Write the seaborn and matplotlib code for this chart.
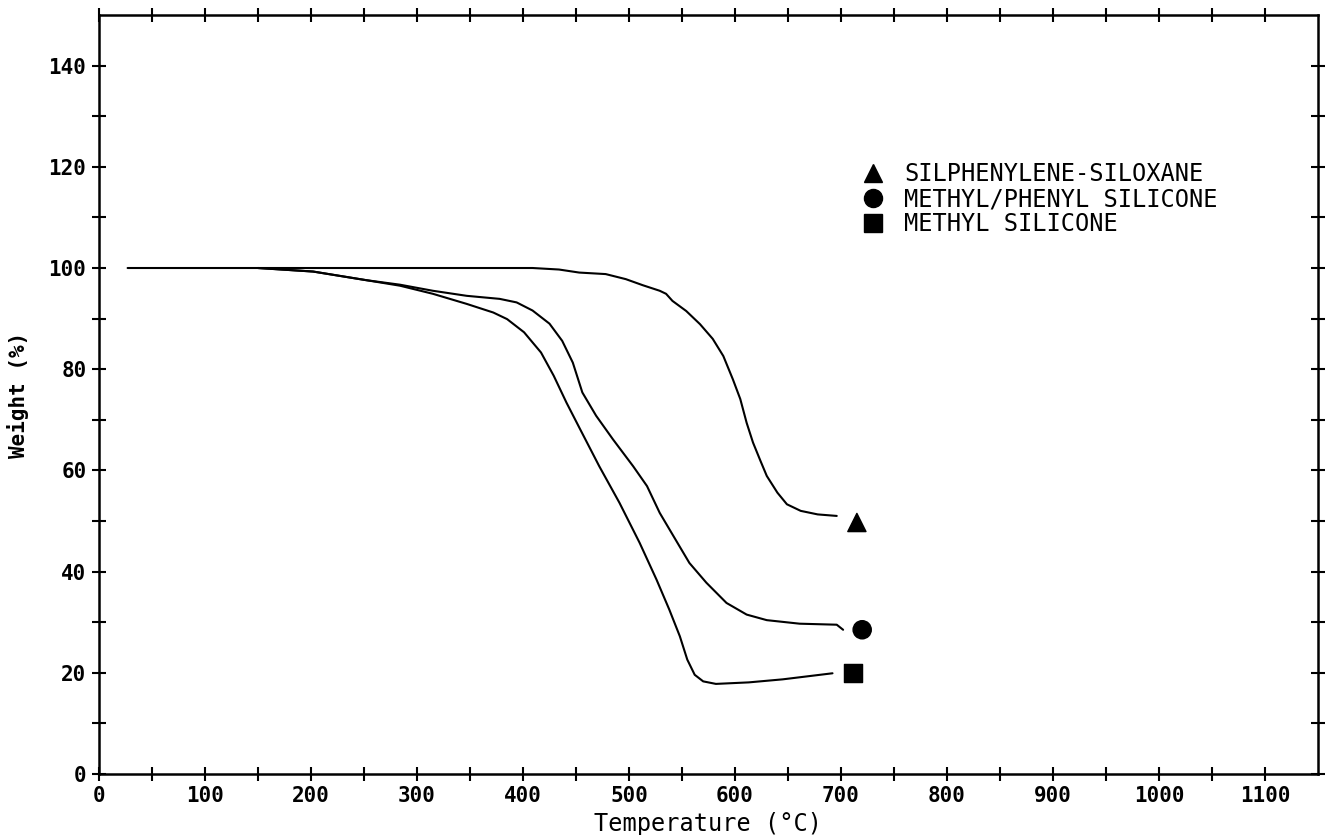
import matplotlib
matplotlib.use('Agg')
import matplotlib.pyplot as plt
from matplotlib.lines import Line2D
import seaborn as sns
import numpy as np
import pandas as pd

# TGA curves (temperature in C, weight in %)
sil_temp = [27, 150, 284, 409, 434, 453, 478, 497, 513, 529, 535, 541, 554, 567, 579, 589, 598,
            605, 611, 617, 624, 630, 640, 649, 662, 678, 696]
sil_weight = [100, 100, 100, 100, 99.7, 99.1, 98.8, 97.8, 96.6, 95.5, 94.9, 93.5, 91.5, 88.9, 86.0,
              82.6, 78.0, 74.1, 69.4, 65.5, 61.9, 58.9, 55.6, 53.3, 52.0, 51.3, 51.0]

mp_temp = [150, 202, 252, 284, 315, 347, 378, 394, 409, 425, 437, 447, 456, 469, 485, 504, 517,
           529, 542, 557, 573, 592, 611, 630, 661, 696, 702]
mp_weight = [100, 99.3, 97.6, 96.7, 95.5, 94.5, 93.9, 93.2, 91.6, 89.0, 85.6, 81.3, 75.4, 70.8,
             66.1, 60.8, 56.9, 51.6, 47.0, 41.7, 37.8, 33.8, 31.5, 30.4, 29.7, 29.5, 28.5]

me_temp = [150, 202, 252, 284, 315, 347, 372, 385, 401, 417, 429, 441, 454, 472, 491, 510, 526,
           538, 548, 555, 562, 570, 582, 613, 645, 692]
me_weight = [100, 99.3, 97.6, 96.5, 94.9, 92.9, 91.2, 89.9, 87.3, 83.3, 78.7, 73.4, 68.1, 60.8,
             53.6, 45.7, 38.4, 32.5, 27.2, 22.6, 19.6, 18.3, 17.8, 18.1, 18.7, 19.9]

# end-of-curve symbols
names = ["SILPHENYLENE-SILOXANE", "METHYL/PHENYL SILICONE", "METHYL SILICONE"]
symbols = ["^", "o", "s"]
end_temp = [715, 720, 711]
end_weight = [49.7, 28.5, 20.0]

x_ticks = np.arange(0, 1101, 100)
y_ticks = np.arange(0, 141, 20)

sns.set_style("ticks")
plt.rcParams['font.family'] = ['DejaVu Sans Mono', 'DejaVu Sans']
plt.rcParams['text.color'] = 'black'
plt.rcParams['axes.labelcolor'] = 'black'
plt.rcParams['xtick.color'] = 'black'
plt.rcParams['ytick.color'] = 'black'

fig = plt.figure(figsize=(13.27, 8.35), dpi=100)
ax = fig.add_axes([0.0746, 0.0731, 0.9186, 0.9089])

curves = [(sil_temp, sil_weight), (mp_temp, mp_weight), (me_temp, me_weight)]
for t, w in curves:
    df = pd.DataFrame({"Temperature": t, "Weight": w})
    sns.lineplot(data=df, x="Temperature", y="Weight", ax=ax, color="black",
                 linewidth=1.5, sort=False, estimator=None)

ends = pd.DataFrame({"t": end_temp, "w": end_weight, "name": names})
sns.scatterplot(data=ends, x="t", y="w", style="name", markers=dict(zip(names, symbols)),
                color="black", s=170, edgecolor="black", ax=ax, legend=False)

ax.set_xlim(0, 1150)
ax.set_ylim(0, 150)
ax.set_xticks(x_ticks)
ax.set_xticklabels([str(v) for v in x_ticks])
ax.set_xticks(np.arange(50, 1150, 100), minor=True)
ax.set_yticks(y_ticks)
ax.set_yticklabels([str(v) for v in y_ticks])
ax.set_yticks(np.arange(10, 150, 20), minor=True)

for which in ("major", "minor"):
    ax.tick_params(axis="both", which=which, direction="inout", length=10, width=1.5,
                   top=True, right=True, color="black")
ax.tick_params(axis="both", which="major", labelsize=15, pad=4, labelcolor="black")
for lab in ax.get_xticklabels() + ax.get_yticklabels():
    lab.set_fontweight("bold")

for sp in ax.spines.values():
    sp.set_linewidth(1.8)
    sp.set_color("black")

ax.set_xlabel("Temperature (°C)", fontsize=17, labelpad=4, color="black")
ax.set_ylabel("Weight (%)", fontsize=15, fontweight="bold", labelpad=14, color="black")

handles = [Line2D([], [], linestyle="none", marker=m, color="black", markersize=13) for m in symbols]
leg = ax.legend(handles, names, loc="upper left", bbox_to_anchor=(0.616, 0.822), frameon=False,
                fontsize=17, borderpad=0, labelspacing=0.05, handlelength=1.0, handletextpad=0.8)
for txt in leg.get_texts():
    txt.set_color("black")

fig.savefig("out.png", dpi=100)
plt.close(fig)
